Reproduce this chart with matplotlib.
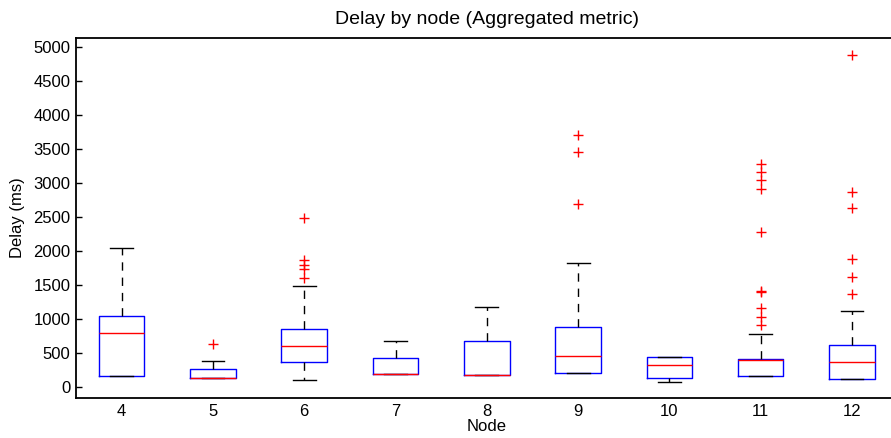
import matplotlib
matplotlib.use("Agg")
import matplotlib.pyplot as plt

plt.rcParams['font.family'] = ['Liberation Sans', 'DejaVu Sans']

nodes = [4, 5, 6, 7, 8, 9, 10, 11, 12]
whislo = [166, 132, 108, 186, 176, 205, 69, 156, 117]
q1 = [166, 132, 362, 186, 176, 205, 127, 156, 117]
med = [797, 132, 606, 186, 176, 450, 318, 400, 371]
q3 = [1046, 259, 855, 435, 674, 889, 440, 411, 616]
whishi = [2043, 386, 1486, 684, 1178, 1828, 440, 782, 1124]
fliers = [
    [],
    [635],
    [2478, 1870, 1790, 1735, 1608],
    [],
    [],
    [3700, 3451, 2698],
    [],
    [3280, 3157, 3040, 2908, 2283, 1408, 1400, 1169, 1036, 914],
    [4873, 2869, 2625, 1877, 1623, 1374],
]
yticks = list(range(0, 5001, 500))

stats = []
for i, n in enumerate(nodes):
    stats.append(dict(label=str(n), whislo=whislo[i], q1=q1[i], med=med[i],
                      q3=q3[i], whishi=whishi[i], fliers=fliers[i]))

fig = plt.figure(figsize=(8.91, 4.38), dpi=100)
ax = fig.add_axes([76/891, 1-398/438, (897.6-76)/891, (398-38)/438])

ax.bxp(stats, positions=nodes, widths=0.5, showfliers=True,
       boxprops=dict(color='blue', linewidth=1.0),
       medianprops=dict(color='red', linewidth=1.0),
       whiskerprops=dict(color='black', linewidth=1.0, linestyle=(0, (6, 5))),
       capprops=dict(color='black', linewidth=1.0),
       capwidths=0.25,
       flierprops=dict(marker='+', markeredgecolor='red', markersize=7,
                       markeredgewidth=1.0, linestyle='none'))

ax.set_xlim(3.5, 12.5)
ax.set_ylim(-160, 5130)
ax.set_yticks(yticks)
ax.set_yticklabels([str(v) for v in yticks])
ax.tick_params(axis='y', direction='in', right=True, length=4.3, width=1.0,
               labelsize=12, pad=4)
ax.tick_params(axis='x', length=0, labelsize=12, pad=4)
for s in ax.spines.values():
    s.set_linewidth(1.3)
ax.set_title('Delay by node (Aggregated metric)', fontsize=14, pad=10)
ax.set_xlabel('Node', fontsize=12, labelpad=0)
ax.set_ylabel('Delay (ms)', fontsize=12, labelpad=6)

fig.savefig('out.png', dpi=100)
